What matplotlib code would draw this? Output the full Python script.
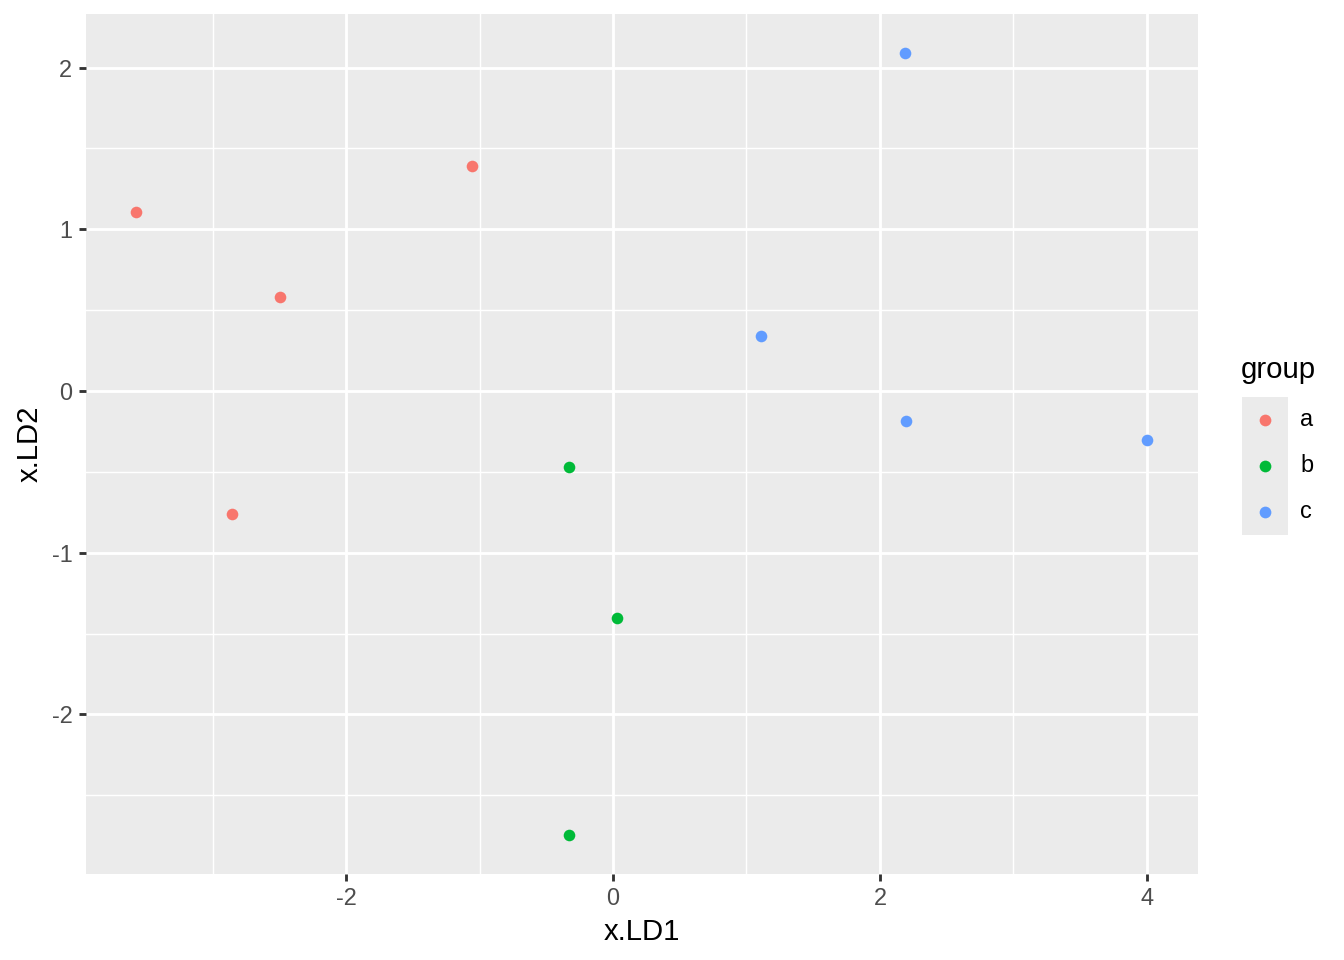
import matplotlib
matplotlib.use("Agg")
import matplotlib.pyplot as plt
from matplotlib.patches import Rectangle
from matplotlib.lines import Line2D

plt.rcParams['font.family'] = ['Liberation Sans', 'DejaVu Sans']

groups = ['a', 'a', 'a', 'a', 'b', 'b', 'b', 'c', 'c', 'c', 'c']
ld1 = [-3.573, -2.494, -1.056, -2.854, -0.330, 0.030, -0.330, 2.187, 1.109, 2.195, 4.000]
ld2 = [1.107, 0.581, 1.391, -0.760, -0.470, -1.403, -2.745, 2.090, 0.340, -0.185, -0.303]
levels = ['a', 'b', 'c']
colors = {'a': '#F8766D', 'b': '#00BA38', 'c': '#619CFF'}
xticks = [-2, 0, 2, 4]
yticks = [-2, -1, 0, 1, 2]
xminor = [-3, -1, 1, 3]
yminor = [-2.5, -1.5, -0.5, 0.5, 1.5]

W, H, DPI = 1344, 960, 192
fig = plt.figure(figsize=(W / DPI, H / DPI), dpi=DPI)
ax = fig.add_axes([85.5 / W, 1 - 874 / H, (1197.5 - 85.5) / W, (874 - 14) / H])
ax.set_facecolor('#EBEBEB')
for s in ax.spines.values():
    s.set_visible(False)

for g in levels:
    xs = [x for x, gg in zip(ld1, groups) if gg == g]
    ys = [y for y, gg in zip(ld2, groups) if gg == g]
    ax.scatter(xs, ys, s=19, color=colors[g], linewidths=0, zorder=3)

xr = max(ld1) - min(ld1)
yr = max(ld2) - min(ld2)
ax.set_xlim(min(ld1) - 0.05 * xr, max(ld1) + 0.05 * xr)
ax.set_ylim(min(ld2) - 0.05 * yr, max(ld2) + 0.05 * yr)

ax.set_xticks(xticks)
ax.set_yticks(yticks)
ax.set_xticks(xminor, minor=True)
ax.set_yticks(yminor, minor=True)
ax.set_xticklabels([str(t) for t in xticks])
ax.set_yticklabels([str(t) for t in yticks])
ax.grid(which='major', color='white', linewidth=1.07, zorder=0)
ax.grid(which='minor', color='white', linewidth=0.53, zorder=0)
ax.set_axisbelow(True)
ax.tick_params(which='major', length=2.75, width=1.07, color='#333333',
               labelsize=8.8, labelcolor='#4D4D4D', pad=2.2)
ax.tick_params(which='minor', length=0)

ax.set_xlabel('x.LD1', fontsize=11, color='black', labelpad=3)
ax.set_ylabel('x.LD2', fontsize=11, color='black', labelpad=3)

# legend
fig.text(1241 / W, 1 - 370 / H, 'group', fontsize=11, ha='left', va='center')
key_top = 397
key = 46
for i, g in enumerate(levels):
    y0 = key_top + i * key
    fig.patches.append(Rectangle((1242 / W, 1 - (y0 + key) / H), key / W, key / H,
                                 transform=fig.transFigure, facecolor='#EBEBEB',
                                 edgecolor='none'))
    fig.lines.append(Line2D([(1242 + key / 2) / W], [1 - (y0 + key / 2) / H],
                            transform=fig.transFigure, marker='o', markersize=4.4,
                            markeredgewidth=0, color=colors[g], linestyle='none'))
    fig.text(1300 / W, 1 - (y0 + key / 2) / H, g, fontsize=8.8, ha='left', va='center')

fig.savefig('out.png', dpi=DPI, facecolor='white')
